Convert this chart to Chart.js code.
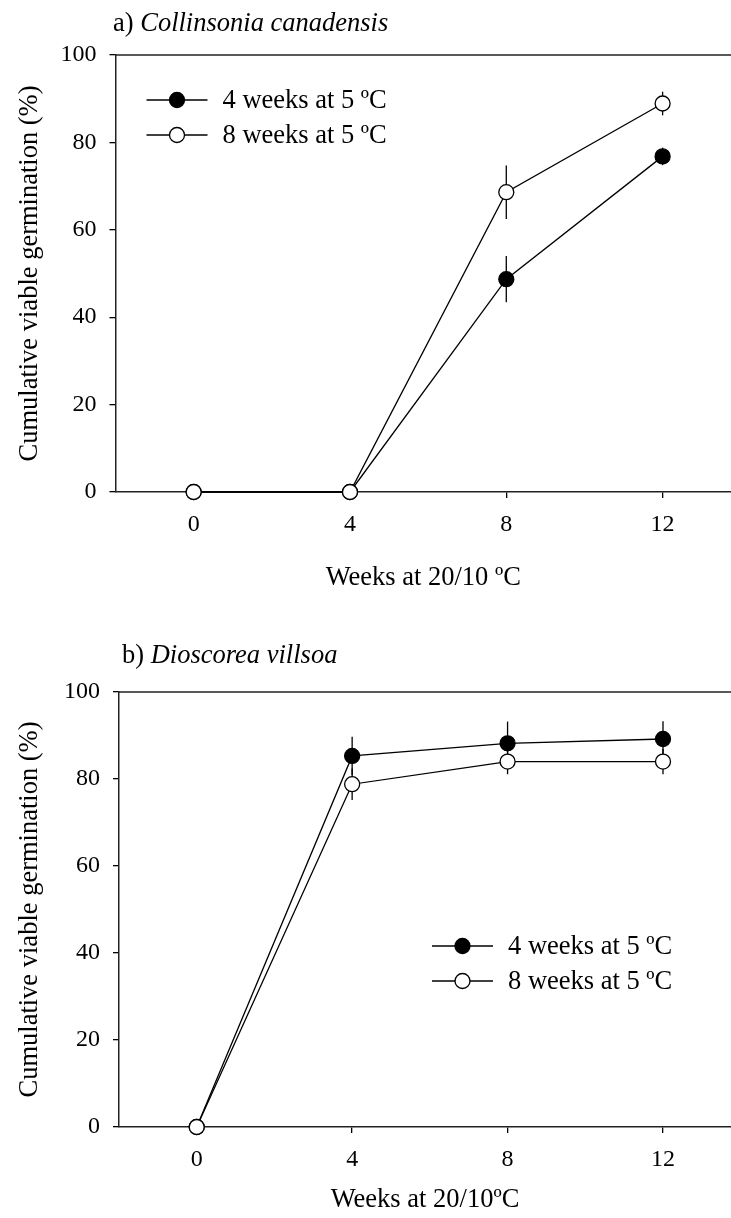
<!DOCTYPE html>
<html>
<head>
<meta charset="utf-8">
<script src="https://cdn.jsdelivr.net/npm/chart.js@4.4.1/dist/chart.umd.min.js"></script>
<style>
  html, body { margin: 0; padding: 0; background: #fff; overflow: hidden; }
  canvas { position: absolute; left: 0; }
</style>
</head>
<body>
<canvas id="chart-a" width="731" height="609" style="top:0"></canvas>
<canvas id="chart-b" width="731" height="609" style="top:609px"></canvas>
<script>
// values
const weeks = [0, 4, 8, 12]
const xTicks = [0, 4, 8, 12]
const yTicks = [0, 20, 40, 60, 80, 100]
const seriesNames = ['4 weeks at 5 ºC', '8 weeks at 5 ºC']

const aFour = [0, 0, 48.7, 76.8]
const aFourErr = [0, 0, 5.3, 2.0]
const aEight = [0, 0, 68.6, 88.9]
const aEightErr = [0, 0, 6.1, 2.7]

const bFour = [0, 85.3, 88.2, 89.2]
const bFourErr = [0, 4.4, 5.0, 4.1]
const bEight = [0, 78.8, 84.0, 84.0]
const bEightErr = [0, 3.6, 2.9, 2.9]

const FONT = "'Liberation Serif', 'Times New Roman', serif"
const TEXT_SIZE = 26.5
Chart.defaults.font.family = FONT
Chart.defaults.font.size = 24
Chart.defaults.color = '#000'

const toPoints = ys => weeks.map((x, i) => ({x: x, y: ys[i]}))

// error bars, top frame line, panel title and legend
const panelDecor = {
    id: 'panelDecor',
    beforeDatasetsDraw(chart) {
        const c = chart.ctx
        const xs = chart.scales.x, ys = chart.scales.y
        c.save()
        c.strokeStyle = '#000'
        c.lineWidth = 1.3
        chart.data.datasets.forEach(ds => {
            ds.data.forEach((p, i) => {
                const e = ds.errors[i]
                if (!e) return
                const px = xs.getPixelForValue(p.x)
                c.beginPath()
                c.moveTo(px, ys.getPixelForValue(p.y - e))
                c.lineTo(px, ys.getPixelForValue(p.y + e))
                c.stroke()
            })
        })
        c.restore()
    },
    afterDraw(chart, args, opts) {
        const c = chart.ctx
        const a = chart.chartArea
        c.save()
        // top frame line
        c.strokeStyle = '#222'
        c.lineWidth = 1.5
        c.beginPath()
        c.moveTo(a.left, a.top)
        c.lineTo(a.right, a.top)
        c.stroke()

        // title: "a) " upright, species in italics
        c.fillStyle = '#000'
        c.textBaseline = 'middle'
        c.textAlign = 'left'
        c.font = TEXT_SIZE + 'px ' + FONT
        c.fillText(opts.title[0], opts.titleX, opts.titleY)
        const w = c.measureText(opts.title[0]).width
        c.font = 'italic ' + TEXT_SIZE + 'px ' + FONT
        c.fillText(opts.title[1], opts.titleX + w, opts.titleY)

        // legend
        c.font = TEXT_SIZE + 'px ' + FONT
        chart.data.datasets.forEach(ds => {
            const lx = a.left + opts.legendX
            const ly = a.top + opts.legendY + ds.legendIndex * 35
            c.strokeStyle = '#000'
            c.lineWidth = 1.3
            c.beginPath()
            c.moveTo(lx, ly)
            c.lineTo(lx + 61, ly)
            c.stroke()
            c.beginPath()
            c.arc(lx + 30.5, ly, 7.5, 0, Math.PI * 2)
            c.fillStyle = ds.pointBackgroundColor
            c.fill()
            c.stroke()
            c.fillStyle = '#000'
            c.fillText(ds.label, lx + 76, ly + 1)
        })
        c.restore()
    }
}

function makeChart(id, four, fourErr, eight, eightErr, p) {
    const line = {borderColor: '#000', borderWidth: 1.3, pointRadius: 7.5, pointBorderWidth: 1.3,
        pointBorderColor: '#000', pointHoverRadius: 7.5, clip: false, tension: 0}
    return new Chart(document.getElementById(id), {
        type: 'line',
        data: {
            datasets: [
                Object.assign({}, line, {label: seriesNames[0], data: toPoints(four), errors: fourErr,
                    pointBackgroundColor: '#000', order: 1, legendIndex: 0}),
                Object.assign({}, line, {label: seriesNames[1], data: toPoints(eight), errors: eightErr,
                    pointBackgroundColor: '#fff', order: 0, legendIndex: 1})
            ]
        },
        options: {
            responsive: false,
            animation: false,
            events: [],
            layout: {autoPadding: false, padding: {top: p.top, left: 0, right: 0, bottom: 0}},
            plugins: {
                legend: {display: false},
                tooltip: {enabled: false},
                panelDecor: p.decor
            },
            scales: {
                x: {
                    type: 'linear',
                    min: -2,
                    max: 13.75,
                    afterBuildTicks: axis => { axis.ticks = xTicks.map(v => ({value: v})) },
                    afterFit: axis => {
                        axis.height = p.xHeight
                        axis.paddingLeft = 0
                        axis.paddingRight = 0
                    },
                    grid: {drawOnChartArea: false, drawTicks: true, tickLength: 6, color: '#000', lineWidth: 1.3},
                    border: {display: true, color: '#222', width: 1.5},
                    ticks: {padding: 12, maxRotation: 0},
                    title: {display: true, text: p.xTitle, font: {size: TEXT_SIZE}, padding: {top: 0, bottom: p.xTitlePad}}
                },
                y: {
                    min: 0,
                    max: 100,
                    afterBuildTicks: axis => { axis.ticks = yTicks.map(v => ({value: v})) },
                    afterFit: axis => { axis.width = p.yWidth },
                    grid: {drawOnChartArea: false, drawTicks: true, tickLength: 6, color: '#000', lineWidth: 1.3},
                    border: {display: true, color: '#222', width: 1.5},
                    ticks: {padding: 13},
                    title: {display: true, text: 'Cumulative viable germination (%)', font: {size: TEXT_SIZE},
                        padding: {top: 14, bottom: 0}}
                }
            }
        },
        plugins: [panelDecor]
    })
}

makeChart('chart-a', aFour, aFourErr, aEight, aEightErr, {
    top: 55, xHeight: 117, yWidth: 115.5, xTitle: 'Weeks at 20/10 ºC', xTitlePad: 15,
    decor: {title: ['a) ', 'Collinsonia canadensis'], titleX: 113, titleY: 24, legendX: 31, legendY: 45}
})
makeChart('chart-b', bFour, bFourErr, bEight, bEightErr, {
    top: 83, xHeight: 91, yWidth: 119, xTitle: 'Weeks at 20/10ºC', xTitlePad: 2,
    decor: {title: ['b) ', 'Dioscorea villsoa'], titleX: 122, titleY: 47, legendX: 313, legendY: 254}
})
</script>
</body>
</html>
